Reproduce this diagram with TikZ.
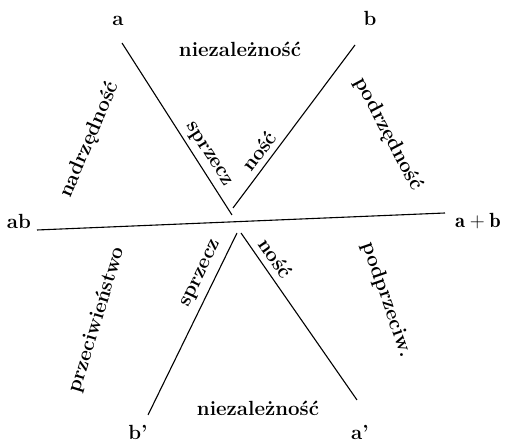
\documentclass[tikz,border=0pt]{standalone}
\usepackage{fontspec}
\usepackage{tikz}

\begin{document}
\begin{tikzpicture}[x=1pt,y=-1pt,
    lbl/.style={font=\fontsize{20.5}{24}\selectfont\bfseries, inner sep=1pt},
    edge/.style={line width=1.1pt}]
    \useasboundingbox (0,0) rectangle (507,443);
    % corner letters
    \node[lbl] (a) at (118,21) {a};
    \node[lbl] (b) at (370,18) {b};
    \node[lbl] (ab) at (19,221) {ab};
    \node[lbl] (apb) at (478,221) {$\mathbf{a+b}$};
    \node[lbl] (bp) at (138,432) {b'};
    \node[lbl] (ap) at (360,432) {a'};
    % line ends
    \coordinate (a1) at (122,43);
    \coordinate (a2) at (232,215);
    \coordinate (b1) at (355,45);
    \coordinate (b2) at (233,208);
    \coordinate (ab1) at (37,230);
    \coordinate (apb1) at (445,213);
    \coordinate (bp1) at (237,233);
    \coordinate (bp2) at (148,415);
    \coordinate (ap1) at (241,233);
    \coordinate (ap2) at (357,400);
    \draw[edge] (a1) -- (a2);
    \draw[edge] (b1) -- (b2);
    \draw[edge] (ab1) -- (apb1);
    \draw[edge] (bp1) -- (bp2);
    \draw[edge] (ap1) -- (ap2);
    % relations
    \node[lbl] (nz1) at (240,49) {niezależność};
    \node[lbl] (nz2) at (258,408) {niezależność};
    \node[lbl, rotate=67] (nad) at (90,140) {nadrzędność};
    \node[lbl, rotate=-62] (pod) at (388,134) {podrzędność};
    \node[lbl, rotate=-57] (sp1) at (208,155) {sprzecz};
    \node[lbl, rotate=53] (no1) at (259,151) {ność};
    \node[lbl, rotate=64] (sp2) at (202,274) {sprzecz};
    \node[lbl, rotate=-55] (no2) at (276,258) {ność};
    \node[lbl, rotate=73] (prz) at (97,320) {przeciwieństwo};
    \node[lbl, rotate=-71] (pp) at (387,300) {podprzeciw.};
\end{tikzpicture}
\end{document}
